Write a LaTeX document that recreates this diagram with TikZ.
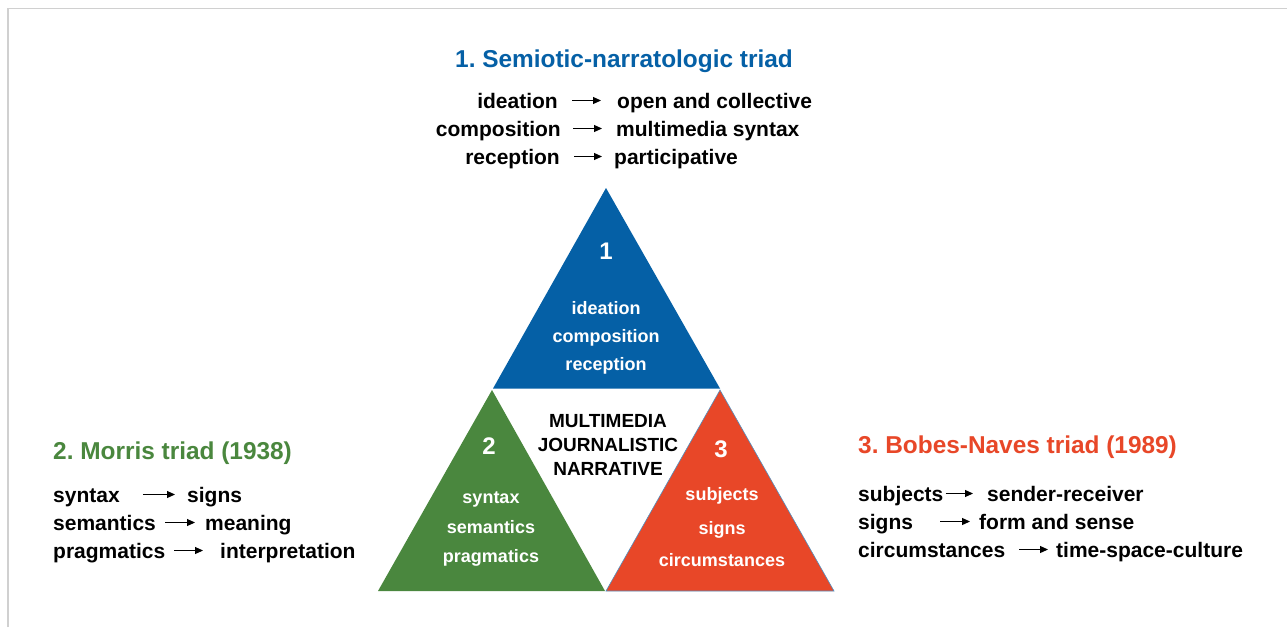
\documentclass[tikz,border=0pt]{standalone}
\usepackage{fontspec}
\setmainfont{Liberation Sans}
\usetikzlibrary{arrows.meta}
\definecolor{tblue}{RGB}{5,96,166}
\definecolor{tgreen}{RGB}{74,135,62}
\definecolor{tred}{RGB}{232,71,40}
\definecolor{frame}{RGB}{208,208,208}
\frenchspacing
\begin{document}
\begin{tikzpicture}[x=1pt,y=-1pt,
  txt/.style={inner sep=0pt,font=\fontsize{21}{25}\selectfont\bfseries},
  head/.style={inner sep=0pt,font=\fontsize{24.4}{28}\selectfont\bfseries},
  intxt/.style={inner sep=0pt,text=white,font=\fontsize{18}{22}\selectfont\bfseries},
  num/.style={inner sep=0pt,text=white,font=\fontsize{24}{28}\selectfont\bfseries},
  ctr/.style={inner sep=0pt,font=\fontsize{19}{22}\selectfont\bfseries},
  arr/.style={line width=1.1pt,-{Triangle[length=8pt,width=7pt]}},
  tri/.style={line join=miter}]
\useasboundingbox (0,0) rectangle (1287,627);
\fill[white] (0,0) rectangle (1287,627);
% frame
\draw[frame,line width=1.5pt] (8,627) -- (8,8.5) -- (1287,8.5);
% triangles
\fill[tblue] (606,188) -- (720,388.5) -- (493,388.5) -- cycle;
\fill[tgreen] (492,390) -- (605,591) -- (378,591) -- cycle;
\filldraw[tred,draw=tblue!70,line width=0.6pt] (720,390) -- (834,591) -- (606,591) -- cycle;
% triangle texts
\node[num,anchor=base] (n1) at (606,259) {1};
\node[intxt,anchor=base] (b1) at (606,314) {ideation};
\node[intxt,anchor=base] (b2) at (606,342) {composition};
\node[intxt,anchor=base] (b3) at (606,370) {reception};
\node[num,anchor=base] (n2) at (489,454) {2};
\node[intxt,anchor=base] (g1) at (491,503) {syntax};
\node[intxt,anchor=base] (g2) at (491,533) {semantics};
\node[intxt,anchor=base] (g3) at (491,562) {pragmatics};
\node[num,anchor=base] (n3) at (721,457) {3};
\node[intxt,anchor=base] (r1) at (722,500) {subjects};
\node[intxt,anchor=base] (r2) at (722,534) {signs};
\node[intxt,anchor=base] (r3) at (722,566) {circumstances};
\node[ctr,anchor=base] (c1) at (608,427) {MULTIMEDIA};
\node[ctr,anchor=base] (c2) at (608,451) {JOURNALISTIC};
\node[ctr,anchor=base] (c3) at (608,475) {NARRATIVE};
% heading 1
\node[head,text=tblue,anchor=base] (h1) at (624,67) {1. Semiotic-narratologic triad};
\node[txt,anchor=base east] (t1l) at (558,108) {ideation};
\node[txt,anchor=base west] (t1r) at (617,108) {open and collective};
\node[txt,anchor=base east] (t2l) at (561,136) {composition};
\node[txt,anchor=base west] (t2r) at (616,136) {multimedia syntax};
\node[txt,anchor=base east] (t3l) at (560,164) {reception};
\node[txt,anchor=base west] (t3r) at (614,164) {participative};
\draw[arr] ([shift={(14pt,7.5pt)}]t1l.base east) -- ([shift={(-16pt,7.5pt)}]t1r.base west);
\draw[arr] ([shift={(12pt,7.5pt)}]t2l.base east) -- ([shift={(-14pt,7.5pt)}]t2r.base west);
\draw[arr] ([shift={(14pt,7.5pt)}]t3l.base east) -- ([shift={(-12pt,7.5pt)}]t3r.base west);
% heading 2
\node[head,text=tgreen,anchor=base west] (h2) at (53,459) {2. Morris triad (1938)};
\node[txt,anchor=base west] (m1l) at (53,502) {syntax};
\node[txt,anchor=base west] (m1r) at (187,502) {signs};
\node[txt,anchor=base west] (m2l) at (53,530) {semantics};
\node[txt,anchor=base west] (m2r) at (205,530) {meaning};
\node[txt,anchor=base west] (m3l) at (53,558) {pragmatics};
\node[txt,anchor=base west] (m3r) at (220,558) {interpretation};
\draw[arr] ([shift={(23pt,7.5pt)}]m1l.base east) -- ([shift={(-12pt,7.5pt)}]m1r.base west);
\draw[arr] ([shift={(9pt,7.5pt)}]m2l.base east) -- ([shift={(-10pt,7.5pt)}]m2r.base west);
\draw[arr] ([shift={(9pt,7.5pt)}]m3l.base east) -- ([shift={(-17pt,7.5pt)}]m3r.base west);
% heading 3
\node[head,text=tred,anchor=base west] (h3) at (858,453) {3. Bobes-Naves triad (1989)};
\node[txt,anchor=base west] (s1l) at (858,501) {subjects};
\node[txt,anchor=base west] (s1r) at (987,501) {sender-receiver};
\node[txt,anchor=base west] (s2l) at (858,529) {signs};
\node[txt,anchor=base west] (s2r) at (979,529) {form and sense};
\node[txt,anchor=base west] (s3l) at (858,557) {circumstances};
\node[txt,anchor=base west] (s3r) at (1056,557) {time-space-culture};
\draw[arr] ([shift={(2pt,7.5pt)}]s1l.base east) -- ([shift={(-14pt,7.5pt)}]s1r.base west);
\draw[arr] ([shift={(27pt,7.5pt)}]s2l.base east) -- ([shift={(-9pt,7.5pt)}]s2r.base west);
\draw[arr] ([shift={(14pt,7.5pt)}]s3l.base east) -- ([shift={(-8pt,7.5pt)}]s3r.base west);
\end{tikzpicture}
\end{document}
